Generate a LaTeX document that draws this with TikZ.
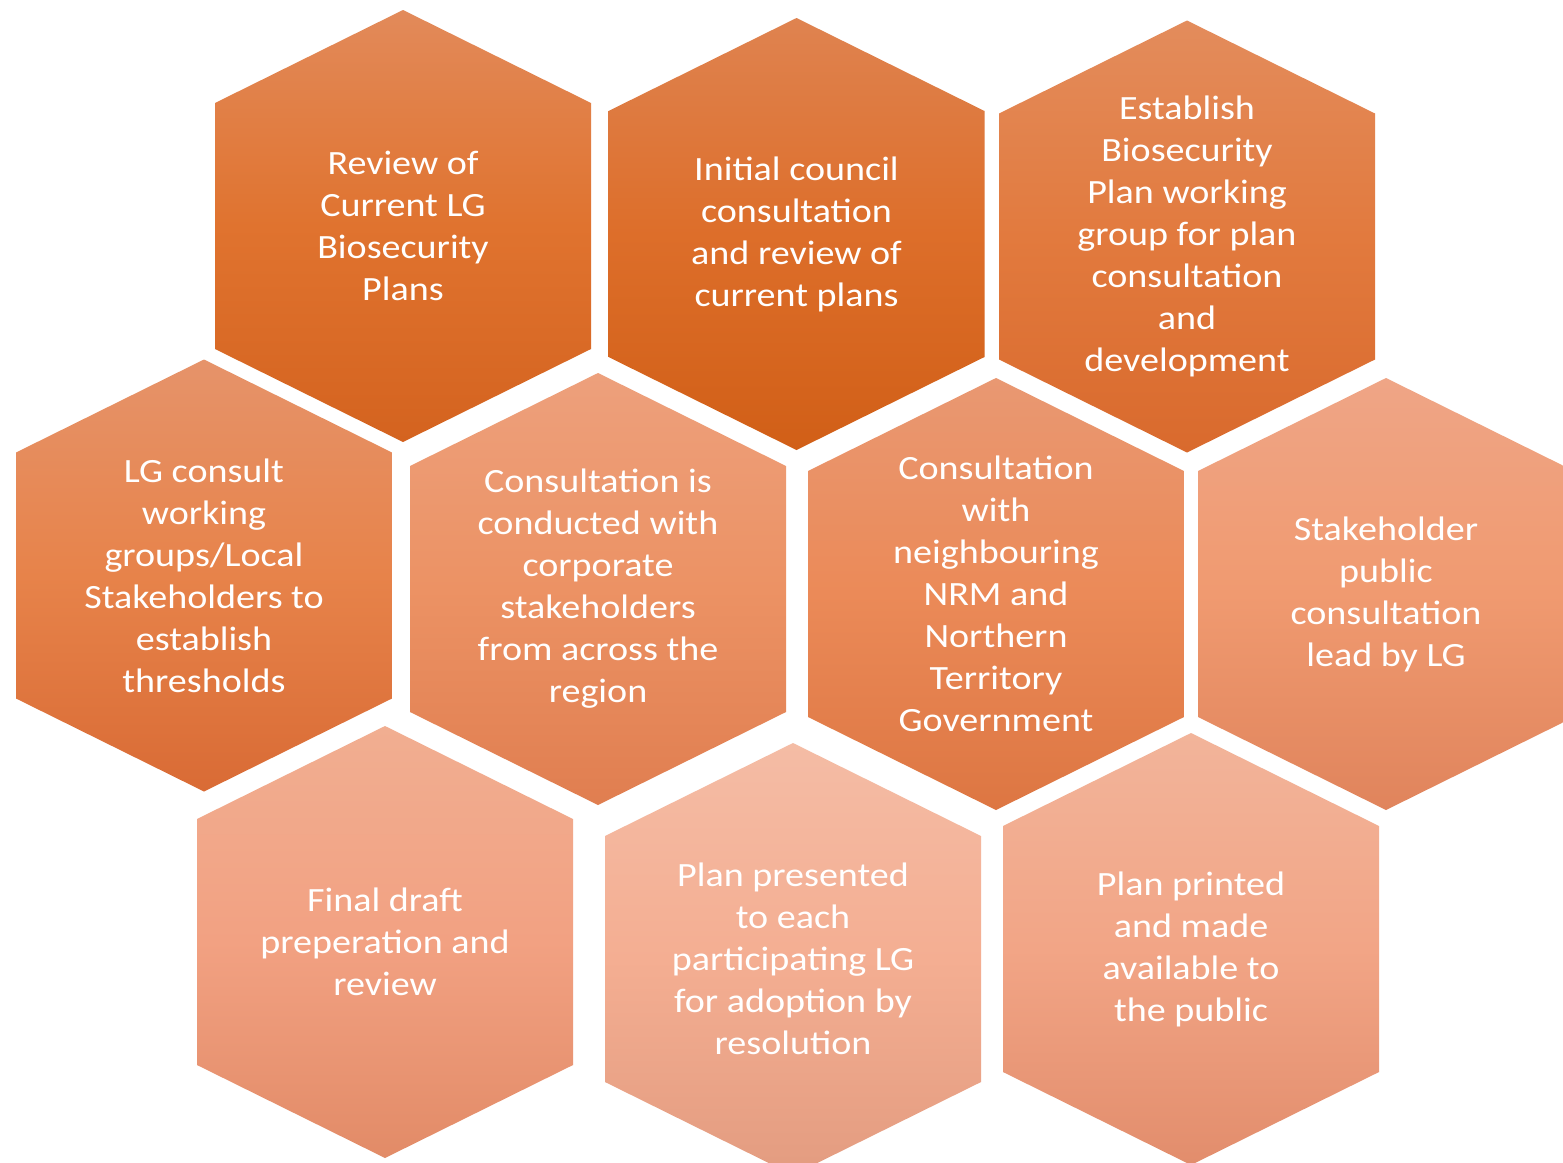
\documentclass[tikz,border=0pt]{standalone}
\usepackage{fontspec}
\setmainfont[FakeStretch=1.12]{Carlito}
\definecolor{hAt}{HTML}{E28A5A}\definecolor{hAm}{HTML}{E0732F}\definecolor{hAb}{HTML}{D4631F}
\definecolor{hBt}{HTML}{DF8350}\definecolor{hBm}{HTML}{DD6E2A}\definecolor{hBb}{HTML}{D15F17}
\definecolor{hCt}{HTML}{E38C5C}\definecolor{hCm}{HTML}{E27A3E}\definecolor{hCb}{HTML}{D96A2D}
\definecolor{hDt}{HTML}{E6936A}\definecolor{hDm}{HTML}{E7834A}\definecolor{hDb}{HTML}{D96B35}
\definecolor{hEt}{HTML}{EDA07C}\definecolor{hEm}{HTML}{EC9264}\definecolor{hEb}{HTML}{E07E50}
\definecolor{hFt}{HTML}{E99872}\definecolor{hFm}{HTML}{EB8A58}\definecolor{hFb}{HTML}{DD7642}
\definecolor{hGt}{HTML}{EFA586}\definecolor{hGm}{HTML}{F09A70}\definecolor{hGb}{HTML}{E0845C}
\definecolor{hHt}{HTML}{F1AE91}\definecolor{hHm}{HTML}{F2A182}\definecolor{hHb}{HTML}{E28B67}
\definecolor{hIt}{HTML}{F4BCA5}\definecolor{hIm}{HTML}{F4AE92}\definecolor{hIb}{HTML}{E39C80}
\definecolor{hJt}{HTML}{F2B49A}\definecolor{hJm}{HTML}{F2A586}\definecolor{hJb}{HTML}{E28D6C}
\tikzset{
  celltext/.style={text=white, align=center, inner sep=0pt, font=\fontsize{34}{42}\selectfont}
}
\newcommand\hexcell[5]{% name, x, y, colour key, text
  \begin{scope}[shift={(#2,#3)}]
    \shade[top color=h#4t, bottom color=h#4b, middle color=h#4m]
      (-188,-123) -- (0,-216) -- (188,-123) -- (188,123) -- (0,216) -- (-188,123) -- cycle;
    \node[celltext] (#1) at (0,0) {#5};
  \end{scope}}
\begin{document}
\begin{tikzpicture}[x=1pt,y=-1pt]
\clip (0,0) rectangle (1563,1162);
\fill[white] (0,0) rectangle (1563,1162);
\hexcell{review}{403}{226}{A}{Review of\\Current LG\\Biosecurity\\Plans}
\hexcell{initial}{796.5}{234}{B}{Initial council\\consultation\\and review of\\current plans}
\hexcell{establish}{1187}{236.5}{C}{Establish\\Biosecurity\\Plan working\\group for plan\\consultation\\and\\development}
\hexcell{lgconsult}{204}{575.5}{D}{LG consult\\working\\groups/Local\\Stakeholders to\\establish\\thresholds}
\hexcell{corporate}{598}{589}{E}{Consultation is\\conducted with\\corporate\\stakeholders\\from across the\\region}
\hexcell{nrm}{996}{594}{F}{Consultation\\with\\neighbouring\\NRM and\\Northern\\Territory\\Government}
\hexcell{public}{1386}{594}{G}{Stakeholder\\public\\consultation\\lead by LG}
\hexcell{draft}{385}{942}{H}{Final draft\\preperation and\\review}
\hexcell{presented}{793}{959}{I}{Plan presented\\to each\\participating LG\\for adoption by\\resolution}
\hexcell{printed}{1191}{949}{J}{Plan printed\\and made\\available to\\the public}
\end{tikzpicture}
\end{document}
